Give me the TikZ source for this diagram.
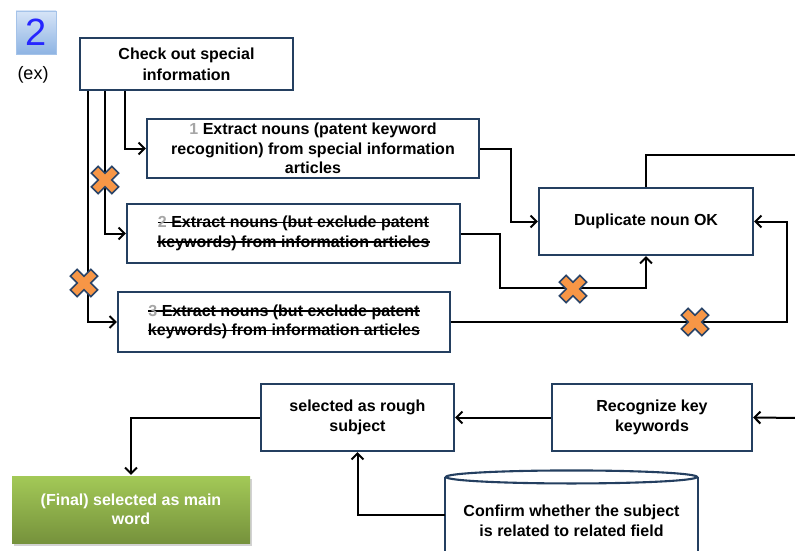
\documentclass[tikz,border=0pt]{standalone}
\usepackage{fontspec}
\setmainfont{Liberation Sans}
\usetikzlibrary{arrows.meta,shadows}
\definecolor{boxc}{HTML}{243F60}
\definecolor{xorange}{HTML}{F79646}
\definecolor{xblue}{HTML}{2A4468}
\definecolor{greenT}{HTML}{A3C957}
\definecolor{greenB}{HTML}{76923C}
\definecolor{blueT}{HTML}{D6E4F7}
\definecolor{blueB}{HTML}{8EB4E3}
\tikzset{
  box/.style={draw=boxc, line width=2.1pt, fill=white, align=center, inner sep=0pt,
    font=\bfseries\fontsize{16}{19.5}\selectfont},
  wire/.style={draw=black, line width=2pt, line join=miter},
  conn/.style={wire, -{Straight Barb[length=6pt,width=12pt,line width=2pt]}},
  xmark/.pic={\filldraw[fill=xorange, draw=xblue, line width=1.6pt, rotate=45]
    (4.8,14.5)--(4.8,4.8)--(14.5,4.8)--(14.5,-4.8)--(4.8,-4.8)--(4.8,-14.5)--(-4.8,-14.5)--(-4.8,-4.8)
    --(-14.5,-4.8)--(-14.5,4.8)--(-4.8,4.8)--(-4.8,14.5)--cycle;}
}
\newcommand{\gd}[1]{\textcolor{gray!70}{#1}}
\newcommand{\strk}[1]{\setbox0\hbox{#1}\rlap{\rule[0.3em]{\wd0}{1.2pt}}\box0}
\begin{document}
\begin{tikzpicture}[x=1pt,y=1pt]
\useasboundingbox (0,0) rectangle (795,-551);
\clip (0,0) rectangle (795,-551);
\fill[white] (0,0) rectangle (795,-551);

% label 2 / (ex)
\node[draw=blueB!80!white, line width=0.8pt, top color=blueT, bottom color=blueB,
  minimum width=40, minimum height=43, inner sep=0pt,
  font=\fontsize{38}{38}\selectfont, text=blue!85!white] (num) at (36,-32.5) {2};
\node[font=\fontsize{18}{20}\selectfont, inner sep=0pt] (ex) at (33,-75) {(ex)};

% boxes
\node[box, minimum width=213, minimum height=52, font=\bfseries\fontsize{16}{21}\selectfont] (chk) at (186.5,-64) {Check out special\\information};
\node[box, minimum width=332, minimum height=59] (b1) at (313,-148.5)
  {\gd{1} Extract nouns (patent keyword\\recognition) from special information\\articles};
\node[box, minimum width=333, minimum height=59] (b2) at (293.5,-233.5)
  {\strk{\gd{2} Extract nouns (but exclude patent}\\\strk{keywords) from information articles}};
\node[box, minimum width=332, minimum height=60] (b3) at (284,-322)
  {\strk{\gd{3} Extract nouns (but exclude patent}\\\strk{keywords) from information articles}};
\node[box, minimum width=214, minimum height=67] (dup) at (646,-221.5) {Duplicate noun OK};
\node[box, minimum width=200, minimum height=67] (rec) at (652,-417.5) {Recognize key\\keywords};
\node[box, minimum width=193, minimum height=67] (rough) at (357.5,-417.5) {selected as rough\\subject};
\node[box, draw=none, minimum width=238, minimum height=67, top color=greenT, bottom color=greenB,
  text=white, drop shadow={opacity=0.35, shadow xshift=2pt, shadow yshift=-3pt}] (fin) at (131,-509.5)
  {(Final) selected as main\\word};

% cylinder
\node[box, draw=none, fill=none, minimum width=251, minimum height=86] (conf) at (571.5,-521) {};
\fill[white] (conf.north west) rectangle ([yshift=-100pt]conf.north east);
\draw[draw=boxc, line width=2.1pt] (conf.north west) -- ++(0,-100);
\draw[draw=boxc, line width=2.1pt] (conf.north east) -- ++(0,-100);
\draw[draw=boxc, line width=2.1pt, fill=white] (conf.north) ellipse [x radius=125.5, y radius=6.5];
\node[box, draw=none, fill=none] (conft) at (571.5,-521) {Confirm whether the subject\\is related to related field};

% coordinates at page edge
\coordinate (outA) at (800,-155);
\coordinate (inB) at (800,-418);

% connectors from check box
\draw[conn] ([xshift=-61.5pt]chk.south) |- (b1.west);
\draw[conn] ([xshift=-81.5pt]chk.south) |- (b2.west);
\draw[conn] ([xshift=-98.5pt]chk.south) |- (b3.west);

% into duplicate
\draw[conn] (b1.east) -- ++(31,0) |- (dup.west);
\draw[conn] (b2.east) -- ++(39,0) -- ++(0,-54.5) -| (dup.south);
\draw[conn] (b3.east) -- ++(336,0) |- (dup.east);
\draw[wire] (dup.north) |- (outA);

% bottom row
\draw[conn] (inB) -- (rec.east);
\draw[conn] (rec.west) -- (rough.east);
\draw[conn] (rough.west) -| (fin.north);
\draw[conn] (conf.west |- 0,-515) -| (rough.south);

% crosses
\pic at (105,-180) {xmark};
\pic at (84,-283) {xmark};
\pic at (573,-289) {xmark};
\pic at (695,-322) {xmark};
\end{tikzpicture}
\end{document}
